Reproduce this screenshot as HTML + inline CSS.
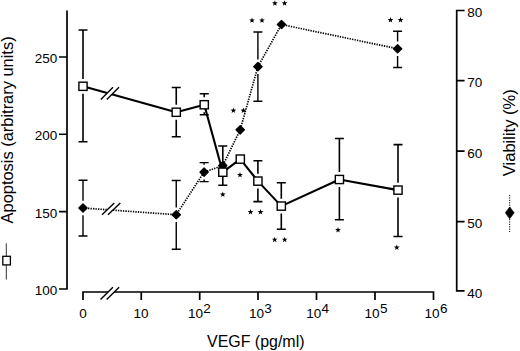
<!DOCTYPE html>
<html><head><meta charset="utf-8"><title>Chart</title><style>html,body{margin:0;padding:0;background:#fff}body{width:520px;height:351px;overflow:hidden}</style></head><body>
<svg width="520" height="351" viewBox="0 0 520 351" style="display:block;font-family:'Liberation Sans',sans-serif">
<rect width="520" height="351" fill="#fff"/>
<path d="M67 10.5V289H59M67 57H59M67 134.25H59M67 211.6H59" stroke="#000" stroke-width="1.7" fill="none"/>
<path d="M464.6 10.5H456.7V290.8H464.6M456.7 80.6H464.6M456.7 151.2H464.6M456.7 221.6H464.6" stroke="#000" stroke-width="1.7" fill="none"/>
<path d="M83 300V292H433.5V300M141.25 292V300M199.7 292V300M258.0 292V300M316.5 292V300M375 292V300" stroke="#000" stroke-width="1.7" fill="none"/>
<path d="M100.5 299.5L112.9 287.3L119.10000000000001 287.3L106.7 299.5Z" fill="#fff"/><path d="M100.5 299.5L112.9 287.3M106.7 299.5L119.10000000000001 287.3" stroke="#000" stroke-width="1.4" fill="none"/>
<text x="57.3" y="63.0" font-size="13.5" text-anchor="end">250</text>
<text x="57.3" y="140.25" font-size="13.5" text-anchor="end">200</text>
<text x="57.3" y="217.6" font-size="13.5" text-anchor="end">150</text>
<text x="57.3" y="295.0" font-size="13.5" text-anchor="end">100</text>
<text x="467.2" y="16.8" font-size="13.5">80</text>
<text x="467.2" y="86.89999999999999" font-size="13.5">70</text>
<text x="467.2" y="157.5" font-size="13.5">60</text>
<text x="467.2" y="227.9" font-size="13.5">50</text>
<text x="467.2" y="297.70000000000005" font-size="13.5">40</text>
<text x="83" y="318" font-size="13.5" text-anchor="middle">0</text>
<text x="141" y="318" font-size="13.5" text-anchor="middle">10</text>
<text x="188.0" y="317.6" font-size="13.5">10</text><text x="203.3" y="313" font-size="13.5">2</text>
<text x="249.0" y="317.6" font-size="13.5">10</text><text x="264.3" y="313" font-size="13.5">3</text>
<text x="306.3" y="317.6" font-size="13.5">10</text><text x="321.6" y="313" font-size="13.5">4</text>
<text x="364.6" y="317.6" font-size="13.5">10</text><text x="379.90000000000003" y="313" font-size="13.5">5</text>
<text x="424.6" y="317.6" font-size="13.5">10</text><text x="439.90000000000003" y="313" font-size="13.5">6</text>
<text x="207" y="347" font-size="16" textLength="97.5" lengthAdjust="spacingAndGlyphs">VEGF (pg/ml)</text>
<text transform="translate(12.7,223.4) rotate(-90)" font-size="16" textLength="187" lengthAdjust="spacingAndGlyphs">Apoptosis (arbitrary units)</text>
<text transform="translate(515,176.2) rotate(-90)" font-size="16" textLength="87" lengthAdjust="spacingAndGlyphs">Viability (%)</text>
<path d="M6.3 243.3V279.6" stroke="#333" stroke-width="1" fill="none"/>
<rect x="2.8" y="256.3" width="7.6" height="8.6" fill="#fff" stroke="#000" stroke-width="1.3"/>
<path d="M509.7 195V232" stroke="#000" stroke-width="1" stroke-dasharray="1.2 1.2" fill="none"/>
<path d="M505.3 212.8L509.7 206.9L514.2 212.8L509.7 218.8Z" fill="#000" stroke="#000" stroke-width="0.6" stroke-linejoin="round"/>
<path d="M78.5 30H87.5M78.5 141.75H87.5M83 30V78.89999999999999M83 93.7V141.75" stroke="#000" stroke-width="1.6" fill="none"/>
<path d="M171.75 87.5H180.75M171.75 136.75H180.75M176.25 87.5V104.85M176.25 119.65V136.75" stroke="#000" stroke-width="1.6" fill="none"/>
<path d="M199.75 93.7H208.75M199.75 114.8H208.75M204.25 93.7V97.35M204.25 112.15V114.8" stroke="#000" stroke-width="1.6" fill="none"/>
<path d="M218.3 146H227.3M218.3 185.2H227.3M222.8 146V167.6M222.8 176.79999999999998V185.2" stroke="#000" stroke-width="1.6" fill="none"/>
<path d="M253.39999999999998 160.7H262.4M253.39999999999998 201.6H262.4M257.9 160.7V173.7M257.9 188.5V201.6" stroke="#000" stroke-width="1.6" fill="none"/>
<path d="M276.8 182.8H285.8M276.8 229.2H285.8M281.3 182.8V198.7M281.3 213.5V229.2" stroke="#000" stroke-width="1.6" fill="none"/>
<path d="M334.9 138.5H343.9M334.9 219.7H343.9M339.4 138.5V172.1M339.4 186.9V219.7" stroke="#000" stroke-width="1.6" fill="none"/>
<path d="M393.5 144.6H402.5M393.5 236.5H402.5M398 144.6V182.7M398 197.5V236.5" stroke="#000" stroke-width="1.6" fill="none"/>
<path d="M78.5 180.25H87.5M78.5 236H87.5M83 180.25V200.7M83 215.3V236" stroke="#000" stroke-width="1.4" fill="none"/>
<path d="M171.75 180.5H180.75M171.75 249.25H180.75M176.25 180.5V207.45M176.25 222.05V249.25" stroke="#000" stroke-width="1.4" fill="none"/>
<path d="M199.6 162.6H208.6M199.6 181.6H208.6M204.1 162.6V164.79999999999998M204.1 179.4V181.6" stroke="#000" stroke-width="1.4" fill="none"/>
<path d="M253.39999999999998 32H262.4M253.39999999999998 101.3H262.4M257.9 32V59.400000000000006M257.9 74.0V101.3" stroke="#000" stroke-width="1.4" fill="none"/>
<path d="M393.1 31.25H402.1M393.1 67.5H402.1M397.6 31.25V41.45M397.6 56.05V67.5" stroke="#000" stroke-width="1.4" fill="none"/>
<polyline points="83,208 176.25,214.75 204.1,172.1 222.8,165.6 240.2,129.8 257.9,66.7 281.5,24.5 397.6,48.75" fill="none" stroke="#000" stroke-width="1.7" stroke-dasharray="1.35 1.15"/>
<polyline points="83,86.3 176.25,112.25 204.25,104.75 222.8,172.2 240.3,159.1 257.9,181.1 281.3,206.1 339.4,179.5 398,190.1" fill="none" stroke="#000" stroke-width="2.1" stroke-linejoin="round"/>
<path d="M100.8 99.5L113.0 87.3L119.0 87.3L106.8 99.5Z" fill="#fff"/><path d="M100.8 99.5L113.0 87.3M106.8 99.5L119.0 87.3" stroke="#000" stroke-width="1.4" fill="none"/>
<path d="M102 214.8L114.3 203.1L120.3 203.1L108.0 214.8Z" fill="#fff"/><path d="M102 214.8L114.3 203.1M108.0 214.8L120.3 203.1" stroke="#000" stroke-width="1.4" fill="none"/>
<path d="M78.85 208L83 203.85L87.15 208L83 212.15Z" fill="#000" stroke="#000" stroke-width="1.3" stroke-linejoin="round"/>
<path d="M172.1 214.75L176.25 210.6L180.4 214.75L176.25 218.9Z" fill="#000" stroke="#000" stroke-width="1.3" stroke-linejoin="round"/>
<path d="M199.95 172.1L204.1 167.95L208.25 172.1L204.1 176.25Z" fill="#000" stroke="#000" stroke-width="1.3" stroke-linejoin="round"/>
<path d="M218.65 165.6L222.8 161.45L226.95000000000002 165.6L222.8 169.75Z" fill="#000" stroke="#000" stroke-width="1.3" stroke-linejoin="round"/>
<path d="M236.04999999999998 129.8L240.2 125.65L244.35 129.8L240.2 133.95000000000002Z" fill="#000" stroke="#000" stroke-width="1.3" stroke-linejoin="round"/>
<path d="M253.74999999999997 66.7L257.9 62.550000000000004L262.04999999999995 66.7L257.9 70.85000000000001Z" fill="#000" stroke="#000" stroke-width="1.3" stroke-linejoin="round"/>
<path d="M277.35 24.5L281.5 20.35L285.65 24.5L281.5 28.65Z" fill="#000" stroke="#000" stroke-width="1.3" stroke-linejoin="round"/>
<path d="M393.45000000000005 48.75L397.6 44.6L401.75 48.75L397.6 52.9Z" fill="#000" stroke="#000" stroke-width="1.3" stroke-linejoin="round"/>
<rect x="78.9" y="82.2" width="8.2" height="8.2" fill="#fff" stroke="#000" stroke-width="1.4"/>
<rect x="172.15" y="108.15" width="8.2" height="8.2" fill="#fff" stroke="#000" stroke-width="1.4"/>
<rect x="200.15" y="100.65" width="8.2" height="8.2" fill="#fff" stroke="#000" stroke-width="1.4"/>
<rect x="218.70000000000002" y="168.1" width="8.2" height="8.2" fill="#fff" stroke="#000" stroke-width="1.4"/>
<rect x="236.20000000000002" y="155.0" width="8.2" height="8.2" fill="#fff" stroke="#000" stroke-width="1.4"/>
<rect x="253.79999999999998" y="177.0" width="8.2" height="8.2" fill="#fff" stroke="#000" stroke-width="1.4"/>
<rect x="277.2" y="202.0" width="8.2" height="8.2" fill="#fff" stroke="#000" stroke-width="1.4"/>
<rect x="335.29999999999995" y="175.4" width="8.2" height="8.2" fill="#fff" stroke="#000" stroke-width="1.4"/>
<rect x="393.9" y="186.0" width="8.2" height="8.2" fill="#fff" stroke="#000" stroke-width="1.4"/>
<polygon points="233.40,107.60 234.13,109.59 236.25,109.67 234.59,110.99 235.16,113.03 233.40,111.85 231.64,113.03 232.21,110.99 230.55,109.67 232.67,109.59" fill="#000"/>
<polygon points="243.40,107.60 244.13,109.59 246.25,109.67 244.59,110.99 245.16,113.03 243.40,111.85 241.64,113.03 242.21,110.99 240.55,109.67 242.67,109.59" fill="#000"/>
<polygon points="252.00,17.40 252.73,19.39 254.85,19.47 253.19,20.79 253.76,22.83 252.00,21.65 250.24,22.83 250.81,20.79 249.15,19.47 251.27,19.39" fill="#000"/>
<polygon points="262.00,17.40 262.73,19.39 264.85,19.47 263.19,20.79 263.76,22.83 262.00,21.65 260.24,22.83 260.81,20.79 259.15,19.47 261.27,19.39" fill="#000"/>
<polygon points="274.90,0.30 275.63,2.29 277.75,2.37 276.09,3.69 276.66,5.73 274.90,4.55 273.14,5.73 273.71,3.69 272.05,2.37 274.17,2.29" fill="#000"/>
<polygon points="284.60,0.30 285.33,2.29 287.45,2.37 285.79,3.69 286.36,5.73 284.60,4.55 282.84,5.73 283.41,3.69 281.75,2.37 283.87,2.29" fill="#000"/>
<polygon points="390.50,17.00 391.23,18.99 393.35,19.07 391.69,20.39 392.26,22.43 390.50,21.25 388.74,22.43 389.31,20.39 387.65,19.07 389.77,18.99" fill="#000"/>
<polygon points="400.50,17.00 401.23,18.99 403.35,19.07 401.69,20.39 402.26,22.43 400.50,21.25 398.74,22.43 399.31,20.39 397.65,19.07 399.77,18.99" fill="#000"/>
<polygon points="222.80,191.50 223.53,193.49 225.65,193.57 223.99,194.89 224.56,196.93 222.80,195.75 221.04,196.93 221.61,194.89 219.95,193.57 222.07,193.49" fill="#000"/>
<polygon points="240.00,172.00 240.73,173.99 242.85,174.07 241.19,175.39 241.76,177.43 240.00,176.25 238.24,177.43 238.81,175.39 237.15,174.07 239.27,173.99" fill="#000"/>
<polygon points="250.50,209.00 251.23,210.99 253.35,211.07 251.69,212.39 252.26,214.43 250.50,213.25 248.74,214.43 249.31,212.39 247.65,211.07 249.77,210.99" fill="#000"/>
<polygon points="260.50,209.00 261.23,210.99 263.35,211.07 261.69,212.39 262.26,214.43 260.50,213.25 258.74,214.43 259.31,212.39 257.65,211.07 259.77,210.99" fill="#000"/>
<polygon points="274.70,236.70 275.43,238.69 277.55,238.77 275.89,240.09 276.46,242.13 274.70,240.95 272.94,242.13 273.51,240.09 271.85,238.77 273.97,238.69" fill="#000"/>
<polygon points="284.70,236.70 285.43,238.69 287.55,238.77 285.89,240.09 286.46,242.13 284.70,240.95 282.94,242.13 283.51,240.09 281.85,238.77 283.97,238.69" fill="#000"/>
<polygon points="338.00,227.00 338.73,228.99 340.85,229.07 339.19,230.39 339.76,232.43 338.00,231.25 336.24,232.43 336.81,230.39 335.15,229.07 337.27,228.99" fill="#000"/>
<polygon points="396.80,244.50 397.53,246.49 399.65,246.57 397.99,247.89 398.56,249.93 396.80,248.75 395.04,249.93 395.61,247.89 393.95,246.57 396.07,246.49" fill="#000"/>
</svg>
</body></html>
